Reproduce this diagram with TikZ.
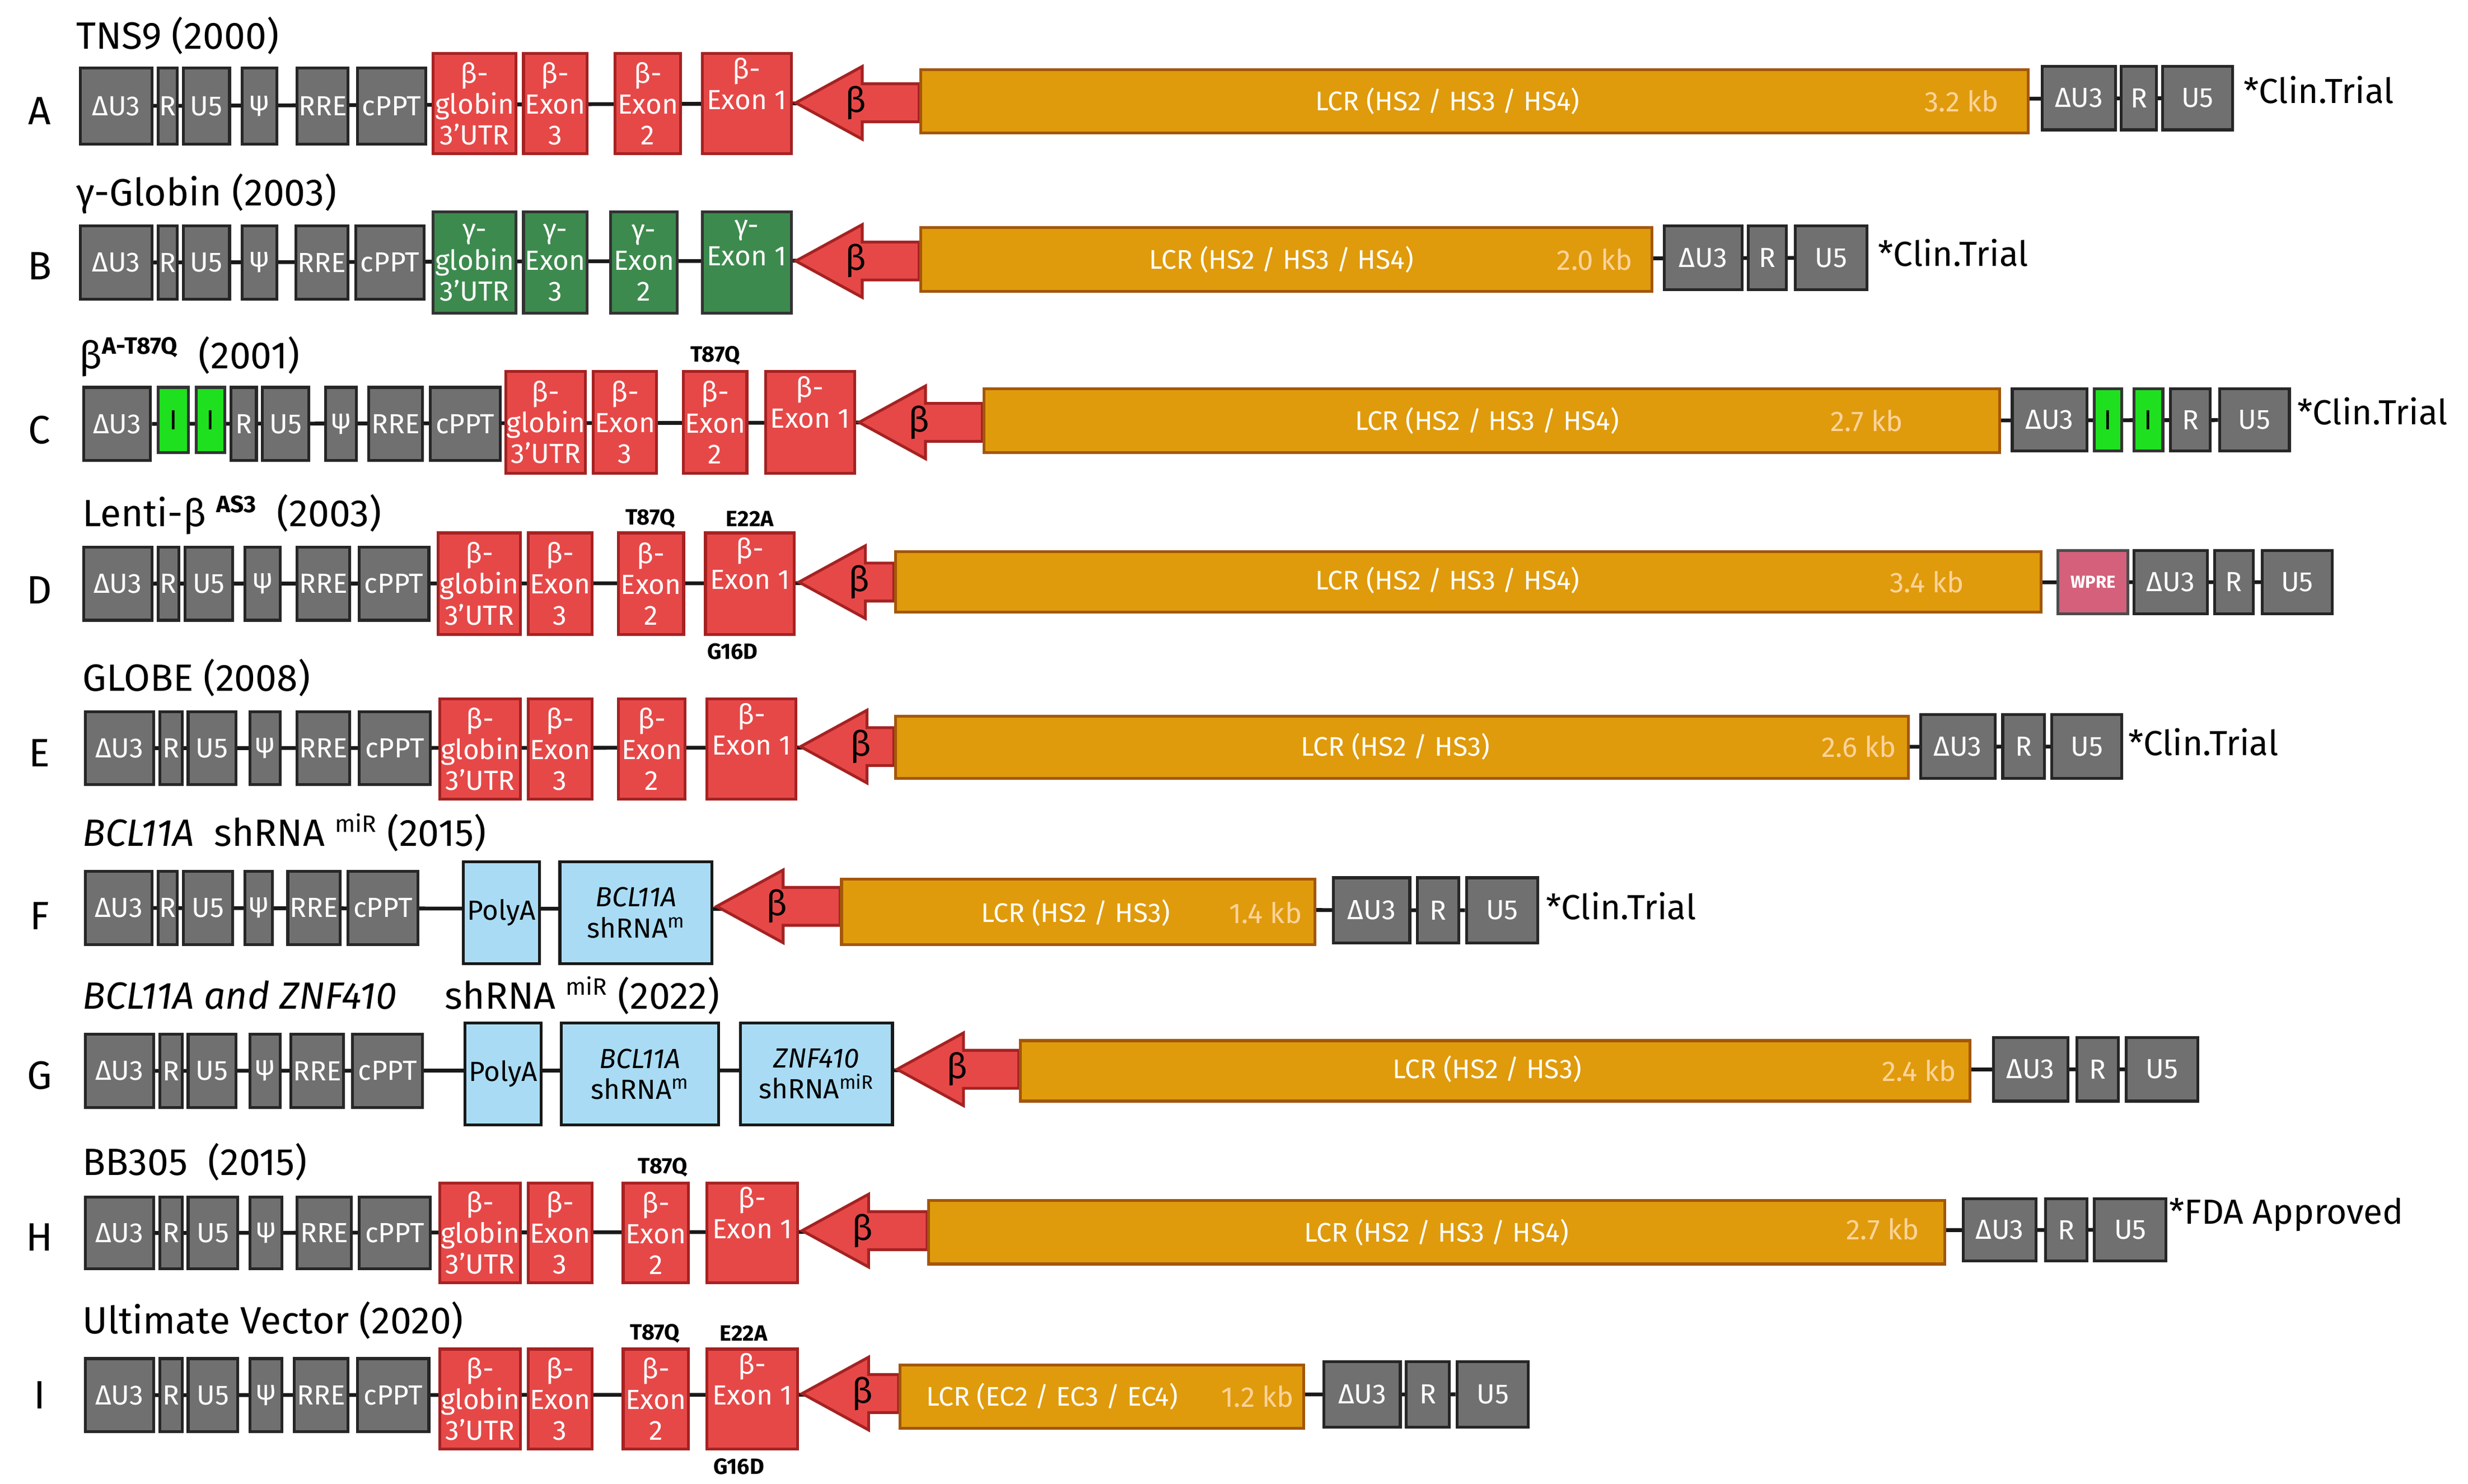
\documentclass[tikz,border=0pt]{standalone}
\usepackage{fontspec}
\setmainfont{Fira Sans}
\usetikzlibrary{backgrounds}

\definecolor{ltrgray}{HTML}{707070}
\definecolor{exred}{HTML}{E64848}
\definecolor{exredline}{HTML}{A52222}
\definecolor{gamgreen}{HTML}{3D8A4E}
\definecolor{insgreen}{HTML}{1FE01F}
\definecolor{lcrorange}{HTML}{DF9B0C}
\definecolor{lcrline}{HTML}{A3570A}
\definecolor{kbtext}{HTML}{FFD39A}
\definecolor{shblue}{HTML}{A9DCF4}
\definecolor{wpre}{HTML}{D4607C}

\tikzstyle{box}=[
    rectangle,
    inner sep=0pt,
    line width=1.8pt,
    align=center,
    font=\fontsize{17.5}{19.5}\selectfont
]
\tikzstyle{ltr}=[box, fill=ltrgray, draw=black!85, text=white]
\tikzstyle{exon}=[box, fill=exred, draw=exredline, text=white]
\tikzstyle{gexon}=[box, fill=gamgreen, draw=black!80, text=white]
\tikzstyle{ins}=[box, fill=insgreen, draw=black!80, text=black]
\tikzstyle{shrna}=[box, fill=shblue, draw=black!90, text=black]
\tikzstyle{lcr}=[box, fill=lcrorange, draw=lcrline, text=white]
\tikzstyle{wbox}=[box, fill=wpre, draw=black!70, text=white, font=\bfseries\fontsize{11}{12}\selectfont]
\tikzstyle{conn}=[line width=2.4pt, black!90]
\tikzstyle{title}=[anchor=base west, inner sep=0pt, font=\fontsize{24}{28}\selectfont]
\tikzstyle{rowlabel}=[inner sep=0pt, font=\fontsize{25}{28}\selectfont]
\tikzstyle{status}=[anchor=west, inner sep=0pt, font=\fontsize{22}{26}\selectfont]
\tikzstyle{mut}=[inner sep=0pt, font=\bfseries\fontsize{14}{16}\selectfont]
\tikzstyle{lcrtext}=[inner sep=0pt, text=white, font=\fontsize{17}{19}\selectfont]
\tikzstyle{kb}=[inner sep=0pt, text=kbtext, font=\fontsize{18}{20}\selectfont]
\tikzstyle{arr}=[fill=exred, draw=exredline, line width=1.8pt, line join=miter]

% box from x1..x2, y1..y2
\newcommand{\bx}[7]{\node[#1, minimum width={#4-#3-1.8}, minimum height={#6-#5-1.8}] (#2) at ({(#3+#4)/2},{(#5+#6)/2}) {#7};}
% left arrow: name, tip x, shaft end x, centre y
\newcommand{\barrow}[4]{%
  \draw[arr] (#2,#4) -- ({#2+42},{#4-23}) -- ({#2+42},{#4-12}) -- (#3,{#4-12})
    -- (#3,{#4+12}) -- ({#2+42},{#4+12}) -- ({#2+42},{#4+23}) -- cycle;
  \node[font=\fontsize{22}{24}\selectfont] (#1) at ({#2+38},#4) {β};}

\begin{document}
\begin{tikzpicture}[x=1pt,y=-1pt]
\useasboundingbox (0,0) rectangle (1560,938);

% ---- A: TNS9
\node[title] (tA) at (48,31) {TNS9 (2000)};
\node[rowlabel] (lA) at (25,70) {A};
\bx{ltr}{A1}{50}{97}{42}{92}{ΔU3}
\bx{ltr}{A2}{99}{113}{42}{92}{R}
\bx{ltr}{A3}{115}{146}{42}{92}{U5}
\bx{ltr}{A4}{152}{176}{42}{92}{ψ}
\bx{ltr}{A5}{187}{221}{42}{92}{RRE}
\bx{ltr}{A6}{225}{270}{42}{92}{cPPT}
\bx{exon}{A7}{273}{327}{33}{98}{β-\\globin\\3'UTR}
\bx{exon}{A8}{330}{372}{33}{98}{β-\\Exon\\3}
\bx{exon}{A9}{388}{431}{33}{98}{β-\\Exon\\2}
\bx{exon}{A10}{443}{501}{33}{98}{β-\\Exon 1\\\strut}
\barrow{Ab}{503}{581}{65}
\bx{lcr}{A11}{581}{1283}{43}{85}{}
\node[lcrtext] (A11t) at (915,64) {LCR (HS2 / HS3 / HS4)};
\node[kb] (A11k) at (1240,64) {3.2 kb};
\bx{ltr}{A12}{1290}{1338}{41}{83}{ΔU3}
\bx{ltr}{A13}{1340}{1364}{41}{83}{R}
\bx{ltr}{A14}{1366}{1412}{41}{83}{U5}
\node[status] (sA) at (1418,57) {*Clin.Trial};

% ---- B: gamma-globin
\node[title] (tB) at (48,130) {γ-Globin (2003)};
\node[rowlabel] (lB) at (25,168) {B};
\bx{ltr}{B1}{50}{97}{142}{190}{ΔU3}
\bx{ltr}{B2}{99}{113}{142}{190}{R}
\bx{ltr}{B3}{115}{146}{142}{190}{U5}
\bx{ltr}{B4}{152}{176}{142}{190}{ψ}
\bx{ltr}{B5}{186}{221}{142}{190}{RRE}
\bx{ltr}{B6}{224}{269}{142}{190}{cPPT}
\bx{gexon}{B7}{273}{327}{133}{199}{γ-\\globin\\3'UTR}
\bx{gexon}{B8}{330}{372}{133}{199}{γ-\\Exon\\3}
\bx{gexon}{B9}{385}{429}{133}{199}{γ-\\Exon\\2}
\bx{gexon}{B10}{443}{501}{133}{199}{γ-\\Exon 1\\\strut}
\barrow{Bb}{503}{581}{165}
\bx{lcr}{B11}{581}{1045}{143}{185}{}
\node[lcrtext] (B11t) at (810,164) {LCR (HS2 / HS3 / HS4)};
\node[kb] (B11k) at (1008,164) {2.0 kb};
\bx{ltr}{B12}{1051}{1102}{142}{184}{ΔU3}
\bx{ltr}{B13}{1104}{1130}{142}{184}{R}
\bx{ltr}{B14}{1134}{1181}{142}{184}{U5}
\node[status] (sB) at (1187,160) {*Clin.Trial};

% ---- C: beta A-T87Q
\node[title] (tC) at (50,233) {β\textsuperscript{\bfseries\fontsize{15}{16}\selectfont A-T87Q}\ \ (2001)};
\node[rowlabel] (lC) at (25,272) {C};
\bx{ltr}{C1}{52}{96}{244}{292}{ΔU3}
\bx{ins}{C2}{99}{120}{244}{287}{I}
\bx{ins}{C3}{123}{143}{244}{287}{I}
\bx{ltr}{C4}{145}{163}{244}{292}{R}
\bx{ltr}{C5}{165}{196}{244}{292}{U5}
\bx{ltr}{C6}{205}{226}{244}{292}{ψ}
\bx{ltr}{C7}{232}{268}{244}{292}{RRE}
\bx{ltr}{C8}{271}{317}{244}{292}{cPPT}
\bx{exon}{C9}{319}{371}{234}{300}{β-\\globin\\3'UTR}
\bx{exon}{C10}{374}{416}{234}{300}{β-\\Exon\\3}
\bx{exon}{C11}{431}{473}{234}{300}{β-\\Exon\\2}
\bx{exon}{C12}{483}{541}{234}{300}{β-\\Exon 1\\\strut}
\node[mut] (mC) at (452,225) {T87Q};
\barrow{Cb}{543}{621}{267}
\bx{lcr}{C13}{621}{1265}{245}{287}{}
\node[lcrtext] (C13t) at (940,266) {LCR (HS2 / HS3 / HS4)};
\node[kb] (C13k) at (1180,266) {2.7 kb};
\bx{ltr}{C14}{1271}{1320}{245}{286}{ΔU3}
\bx{ins}{C15}{1323}{1342}{245}{286}{I}
\bx{ins}{C16}{1348}{1368}{245}{286}{I}
\bx{ltr}{C17}{1371}{1398}{245}{286}{R}
\bx{ltr}{C18}{1402}{1448}{245}{286}{U5}
\node[status] (sC) at (1452,260) {*Clin.Trial};

% ---- D: Lenti-beta AS3
\node[title] (tD) at (52,333) {Lenti-β \textsuperscript{\bfseries\fontsize{15}{16}\selectfont AS3}\ \ (2003)};
\node[rowlabel] (lD) at (25,373) {D};
\bx{ltr}{D1}{52}{97}{345}{393}{ΔU3}
\bx{ltr}{D2}{99}{114}{345}{393}{R}
\bx{ltr}{D3}{116}{148}{345}{393}{U5}
\bx{ltr}{D4}{154}{178}{345}{393}{ψ}
\bx{ltr}{D5}{187}{222}{345}{393}{RRE}
\bx{ltr}{D6}{226}{272}{345}{393}{cPPT}
\bx{exon}{D7}{276}{330}{336}{402}{β-\\globin\\3'UTR}
\bx{exon}{D8}{333}{375}{336}{402}{β-\\Exon\\3}
\bx{exon}{D9}{390}{433}{336}{402}{β-\\Exon\\2}
\bx{exon}{D10}{445}{503}{336}{402}{β-\\Exon 1\\\strut}
\node[mut] (mD1) at (411,328) {T87Q};
\node[mut] (mD2) at (474,328) {E22A};
\node[mut] (mD3) at (463,412) {G16D};
\barrow{Db}{505}{565}{368}
\bx{lcr}{D11}{565}{1291}{348}{388}{}
\node[lcrtext] (D11t) at (915,367) {LCR (HS2 / HS3 / HS4)};
\node[kb] (D11k) at (1218,368) {3.4 kb};
\bx{wbox}{D12}{1300}{1346}{347}{389}{WPRE}
\bx{ltr}{D13}{1348}{1396}{347}{389}{ΔU3}
\bx{ltr}{D14}{1399}{1425}{347}{389}{R}
\bx{ltr}{D15}{1429}{1475}{347}{389}{U5}

% ---- E: GLOBE
\node[title] (tE) at (52,437) {GLOBE (2008)};
\node[rowlabel] (lE) at (25,476) {E};
\bx{ltr}{E1}{53}{98}{449}{497}{ΔU3}
\bx{ltr}{E2}{100}{116}{449}{497}{R}
\bx{ltr}{E3}{118}{150}{449}{497}{U5}
\bx{ltr}{E4}{157}{178}{449}{497}{ψ}
\bx{ltr}{E5}{187}{222}{449}{497}{RRE}
\bx{ltr}{E6}{226}{273}{449}{497}{cPPT}
\bx{exon}{E7}{277}{330}{441}{506}{β-\\globin\\3'UTR}
\bx{exon}{E8}{333}{375}{441}{506}{β-\\Exon\\3}
\bx{exon}{E9}{390}{434}{441}{506}{β-\\Exon\\2}
\bx{exon}{E10}{446}{504}{441}{506}{β-\\Exon 1\\\strut}
\barrow{Eb}{506}{565}{472}
\bx{lcr}{E11}{565}{1207}{452}{493}{}
\node[lcrtext] (E11t) at (882,472) {LCR (HS2 / HS3)};
\node[kb] (E11k) at (1175,472) {2.6 kb};
\bx{ltr}{E12}{1213}{1262}{451}{493}{ΔU3}
\bx{ltr}{E13}{1265}{1293}{451}{493}{R}
\bx{ltr}{E14}{1296}{1342}{451}{493}{U5}
\node[status] (sE) at (1345,469) {*Clin.Trial};

% ---- F: BCL11A shRNA
\node[title] (tF) at (52,535) {\textit{BCL11A}\ \ shRNA \textsuperscript{\fontsize{15}{16}\selectfont miR}\ (2015)};
\node[rowlabel] (lF) at (25,579) {F};
\bx{ltr}{F1}{53}{97}{550}{598}{ΔU3}
\bx{ltr}{F2}{99}{113}{550}{598}{R}
\bx{ltr}{F3}{115}{148}{550}{598}{U5}
\bx{ltr}{F4}{154}{173}{550}{598}{ψ}
\bx{ltr}{F5}{181}{216}{550}{598}{RRE}
\bx{ltr}{F6}{219}{265}{550}{598}{cPPT}
\bx{shrna}{F7}{292}{342}{544}{610}{PolyA}
\bx{shrna}{F8}{353}{451}{544}{610}{\textit{BCL11A}\\shRNA\textsuperscript{m}}
\barrow{Fb}{453}{531}{573}
\bx{lcr}{F9}{531}{832}{555}{598}{}
\node[lcrtext] (F9t) at (680,577) {LCR (HS2 / HS3)};
\node[kb] (F9k) at (800,577) {1.4 kb};
\bx{ltr}{F10}{842}{892}{554}{597}{ΔU3}
\bx{ltr}{F11}{895}{923}{554}{597}{R}
\bx{ltr}{F12}{926}{973}{554}{597}{U5}
\node[status] (sF) at (977,573) {*Clin.Trial};

% ---- G: BCL11A and ZNF410 shRNA
\node[title] (tG) at (52,638) {\textit{BCL11A and ZNF410}\quad\ shRNA \textsuperscript{\fontsize{15}{16}\selectfont miR}\ (2022)};
\node[rowlabel] (lG) at (25,680) {G};
\bx{ltr}{G1}{53}{98}{653}{701}{ΔU3}
\bx{ltr}{G2}{100}{116}{653}{701}{R}
\bx{ltr}{G3}{118}{150}{653}{701}{U5}
\bx{ltr}{G4}{157}{178}{653}{701}{ψ}
\bx{ltr}{G5}{183}{218}{653}{701}{RRE}
\bx{ltr}{G6}{222}{268}{653}{701}{cPPT}
\bx{shrna}{G7}{293}{343}{646}{712}{PolyA}
\bx{shrna}{G8}{354}{455}{646}{712}{\textit{BCL11A}\\shRNA\textsuperscript{m}}
\bx{shrna}{G9}{467}{565}{646}{712}{\textit{ZNF410}\\shRNA\textsuperscript{miR}}
\barrow{Gb}{567}{644}{676}
\bx{lcr}{G10}{644}{1246}{657}{697}{}
\node[lcrtext] (G10t) at (940,676) {LCR (HS2 / HS3)};
\node[kb] (G10k) at (1213,677) {2.4 kb};
\bx{ltr}{G11}{1259}{1308}{655}{697}{ΔU3}
\bx{ltr}{G12}{1312}{1340}{655}{697}{R}
\bx{ltr}{G13}{1343}{1390}{655}{697}{U5}

% ---- H: BB305
\node[title] (tH) at (52,743) {BB305\ \ (2015)};
\node[rowlabel] (lH) at (25,782) {H};
\bx{ltr}{H1}{53}{98}{756}{803}{ΔU3}
\bx{ltr}{H2}{100}{116}{756}{803}{R}
\bx{ltr}{H3}{118}{151}{756}{803}{U5}
\bx{ltr}{H4}{157}{179}{756}{803}{ψ}
\bx{ltr}{H5}{187}{223}{756}{803}{RRE}
\bx{ltr}{H6}{226}{273}{756}{803}{cPPT}
\bx{exon}{H7}{277}{330}{747}{812}{β-\\globin\\3'UTR}
\bx{exon}{H8}{333}{375}{747}{812}{β-\\Exon\\3}
\bx{exon}{H9}{393}{436}{747}{812}{β-\\Exon\\2}
\bx{exon}{H10}{446}{505}{747}{812}{β-\\Exon 1\\\strut}
\node[mut] (mH) at (419,738) {T87Q};
\barrow{Hb}{507}{586}{778}
\bx{lcr}{H11}{586}{1230}{758}{800}{}
\node[lcrtext] (H11t) at (908,779) {LCR (HS2 / HS3 / HS4)};
\node[kb] (H11k) at (1190,777) {2.7 kb};
\bx{ltr}{H12}{1240}{1288}{757}{798}{ΔU3}
\bx{ltr}{H13}{1292}{1320}{757}{798}{R}
\bx{ltr}{H14}{1323}{1370}{757}{798}{U5}
\node[status] (sH) at (1371,768) {*FDA Approved};

% ---- I: Ultimate Vector
\node[title] (tI) at (52,843) {Ultimate Vector (2020)};
\node[rowlabel] (lI) at (25,882) {I};
\bx{ltr}{I1}{53}{98}{858}{906}{ΔU3}
\bx{ltr}{I2}{100}{116}{858}{906}{R}
\bx{ltr}{I3}{118}{151}{858}{906}{U5}
\bx{ltr}{I4}{157}{179}{858}{906}{ψ}
\bx{ltr}{I5}{185}{221}{858}{906}{RRE}
\bx{ltr}{I6}{225}{272}{858}{906}{cPPT}
\bx{exon}{I7}{277}{330}{852}{917}{β-\\globin\\3'UTR}
\bx{exon}{I8}{333}{375}{852}{917}{β-\\Exon\\3}
\bx{exon}{I9}{393}{436}{852}{917}{β-\\Exon\\2}
\bx{exon}{I10}{446}{505}{852}{917}{β-\\Exon 1\\\strut}
\node[mut] (mI1) at (414,843) {T87Q};
\node[mut] (mI2) at (470,843) {E22A};
\node[mut] (mI3) at (467,927) {G16D};
\barrow{Ib}{507}{568}{881}
\bx{lcr}{I11}{568}{825}{862}{904}{}
\node[lcrtext] (I11t) at (665,883) {LCR (EC2 / EC3 / EC4)};
\node[kb] (I11k) at (795,883) {1.2 kb};
\bx{ltr}{I12}{836}{886}{860}{903}{ΔU3}
\bx{ltr}{I13}{888}{917}{860}{903}{R}
\bx{ltr}{I14}{920}{967}{860}{903}{U5}

% backbone lines
\begin{scope}[on background layer]
  \draw[conn] (A1) -- (A14);
  \draw[conn] (B1) -- (B14);
  \draw[conn] (C1) -- (C18);
  \draw[conn] (D1) -- (D15);
  \draw[conn] (E1) -- (E14);
  \draw[conn] (F1) -- (F12);
  \draw[conn] (G1) -- (G13);
  \draw[conn] (H1) -- (H14);
  \draw[conn] (I1) -- (I14);
\end{scope}
\end{tikzpicture}
\end{document}
